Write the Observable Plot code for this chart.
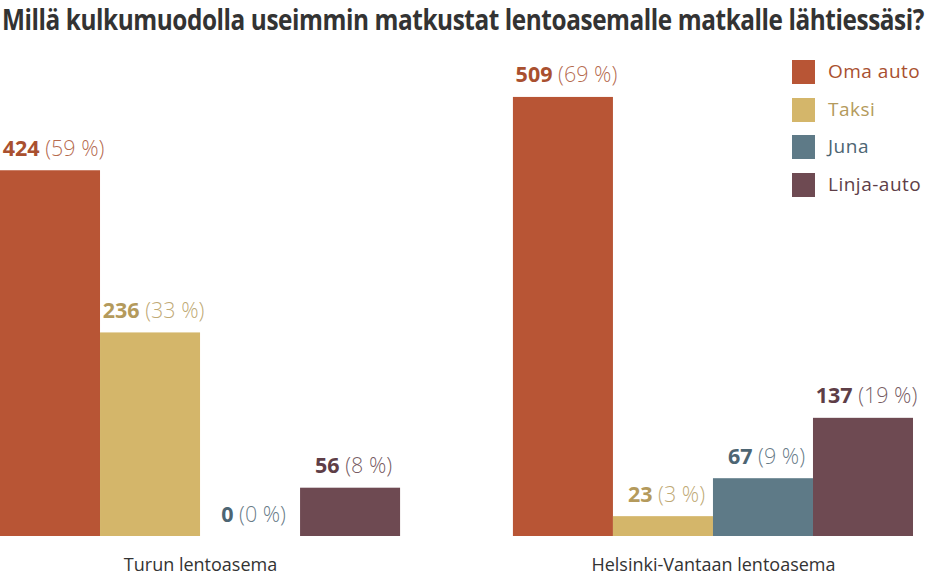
<!DOCTYPE html>
<html>
<head>
<meta charset="utf-8">
<script src="https://cdn.jsdelivr.net/npm/d3@7"></script>
<script src="https://cdn.jsdelivr.net/npm/@observablehq/plot@0.6"></script>
<style>
  html, body { margin: 0; padding: 0; background: #fff; }
  #wrap { position: relative; width: 934px; height: 577px; overflow: hidden; }
  #title { position: absolute; left: 2px; top: 2px; white-space: nowrap; transform-origin: 0 0;
    font-family: "Open Sans", sans-serif; font-weight: bold;
    font-size: 23px; line-height: 27px; color: #333; letter-spacing: -0.4px; }
  #chart { position: absolute; left: 0; top: 40px; }
  #legend { position: absolute; left: 792px; top: 59px; font-family: "Open Sans", sans-serif; font-size: 19px; white-space: nowrap; }
  .row { position: relative; height: 37.5px; }
  .sw { position: absolute; left: 0; top: 1px; width: 23px; height: 24px; }
  .lt { position: absolute; left: 36px; top: -1px; letter-spacing: 0.5px; }
</style>
</head>
<body>
<div id="wrap">
  <div id="title">Millä kulkumuodolla useimmin matkustat lentoasemalle matkalle lähtiessäsi?</div>
  <div id="chart"></div>
  <div id="legend"></div>
</div>
<script>
const groups = ["Turun lentoasema", "Helsinki-Vantaan lentoasema"];
const modes = ["Oma auto", "Taksi", "Juna", "Linja-auto"];
const turkuValues = [424, 236, 0, 56];
const turkuPercents = [59, 33, 0, 8];
const helsinkiValues = [509, 23, 67, 137];
const helsinkiPercents = [69, 3, 9, 19];
const barColors = ["#B85535", "#D4B66A", "#5E7A87", "#6E4A52"];
const textColors = ["#A9502F", "#B49A5C", "#4D6573", "#5E3E47"];

const data = [];
modes.forEach((m, i) => data.push({group: groups[0], mode: m, value: turkuValues[i], pct: turkuPercents[i], ci: i}));
modes.forEach((m, i) => data.push({group: groups[1], mode: m, value: helsinkiValues[i], pct: helsinkiPercents[i], ci: i}));

const chart = Plot.plot({
  width: 934,
  height: 537,
  marginTop: 0,
  marginLeft: 0,
  marginRight: 21,
  marginBottom: 41,
  style: {background: "#fff", fontFamily: "Open Sans, sans-serif", overflow: "visible"},
  fx: {domain: groups, paddingInner: 0.22, paddingOuter: 0, round: false, label: null},
  x: {domain: modes, padding: 0, round: false, axis: null},
  y: {domain: [0, 575], axis: null},
  color: {domain: modes, range: barColors},
  marks: [
    Plot.barY(data, {fx: "group", x: "mode", y: "value", fill: "mode", inset: 0}),
    Plot.text(data, {
      fx: "group", x: "mode", y: "value",
      text: d => `${d.value} (${d.pct} %)`,
      lineAnchor: "bottom", dy: -15, dx: 3, fontSize: 21.5,
      fill: d => textColors[d.ci],
      render(index, scales, values, dims, context, next) {
        const g = next(index, scales, values, dims, context);
        d3.select(g).selectAll("text").each(function(_, j) {
          const d = data[index[j]];
          const t = d3.select(this);
          t.text(null);
          t.append("tspan").attr("font-weight", "bold").text(`${d.value} `);
          t.append("tspan").attr("font-weight", "300").attr("fill-opacity", 0.85).text(`(${d.pct} %)`);
        });
        return g;
      }
    }),
    Plot.axisFx({anchor: "bottom", tickSize: 0, tickPadding: 22, fontSize: 18, fill: "#333", label: null})
  ]
});
document.getElementById("chart").appendChild(chart);

const legend = d3.select("#legend");
modes.forEach((m, i) => {
  const row = legend.append("div").attr("class", "row");
  row.append("div").attr("class", "sw").style("background", barColors[i]);
  row.append("div").attr("class", "lt").style("color", textColors[i]).text(m);
});

const title = document.getElementById("title");
const w = title.getBoundingClientRect().width;
title.style.transform = `scale(${922 / w}, 1.25)`;
</script>
</body>
</html>
